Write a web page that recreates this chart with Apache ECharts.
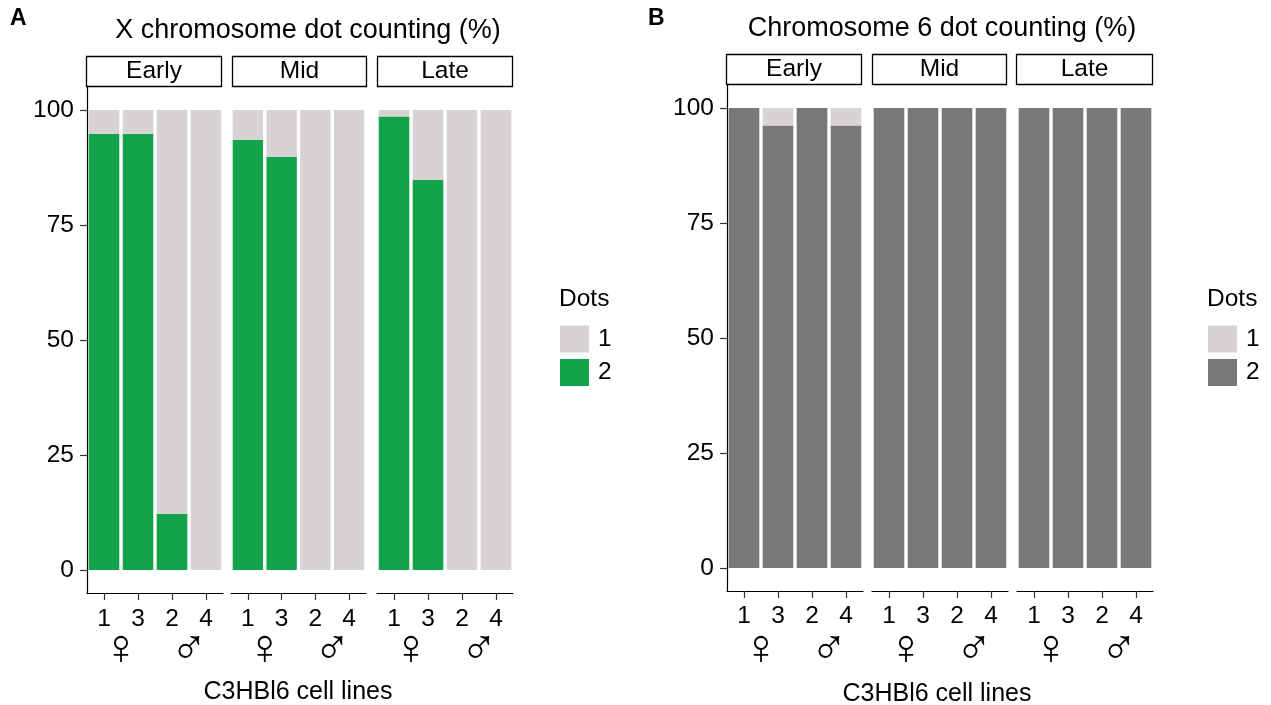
<!DOCTYPE html>
<html>
<head>
<meta charset="utf-8">
<script src="https://cdn.jsdelivr.net/npm/echarts@6/dist/echarts.min.js"></script>
<style>
html,body{margin:0;padding:0;background:#fff;}
#chart{width:1271px;height:705px;}
</style>
</head>
<body>
<div id="chart"></div>
<script>
// ---------- data ----------
const stages = ['Early', 'Mid', 'Late'];
const cellLines = ['1', '3', '2', '4'];
const sexes = ['\u2640', '\u2642'];
const yTicks = [0, 25, 50, 75, 100];
const dotNames = ['1', '2'];

// Panel A: X chromosome dot counting (%)
const xEarly2 = [94.8, 94.8, 12.2, 0];
const xEarly1 = [5.2, 5.2, 87.8, 100];
const xMid2 = [93.5, 89.8, 0, 0];
const xMid1 = [6.5, 10.2, 100, 100];
const xLate2 = [98.6, 84.8, 0, 0];
const xLate1 = [1.4, 15.2, 100, 100];

// Panel B: Chromosome 6 dot counting (%)
const c6Early2 = [100, 96.2, 100, 96.2];
const c6Early1 = [0, 3.8, 0, 3.8];
const c6Mid2 = [100, 100, 100, 100];
const c6Mid1 = [0, 0, 0, 0];
const c6Late2 = [100, 100, 100, 100];
const c6Late1 = [0, 0, 0, 0];

// ---------- styling / layout ----------
const FONT = "'Liberation Sans', Arial, Helvetica, sans-serif";
const colLight = '#d8d3d3';
const colGreen = '#13a34b';
const colDark = '#787878';

const panels = [
  { letter: 'A', letterX: 10, title: 'X chromosome dot counting (%)', titleX: 308, titleY: 31,
    top: 87, height: 506, lefts: [87, 231, 377], widths: [136, 135, 136],
    strips: [[86, 222], [232, 367], [377, 513]], stripTop: 56,
    axisTitleX: 298, axisTitleY: 692, labelMargin: 14,
    legendX: 560, dotsY: 299, legendTop: 325.5, col2: colGreen,
    d2: [xEarly2, xMid2, xLate2], d1: [xEarly1, xMid1, xLate1] },
  { letter: 'B', letterX: 648, title: 'Chromosome 6 dot counting (%)', titleX: 942, titleY: 29,
    top: 85, height: 506, lefts: [727, 872, 1017], widths: [136, 136, 136],
    strips: [[726, 862], [872, 1007], [1016, 1153]], stripTop: 54,
    axisTitleX: 937, axisTitleY: 694, labelMargin: 13,
    legendX: 1208, dotsY: 299, legendTop: 325.5, col2: colDark,
    d2: [c6Early2, c6Mid2, c6Late2], d1: [c6Early1, c6Mid1, c6Late1] }
];

const grid = [], xAxis = [], yAxis = [], series = [], graphic = [], legend = [];

panels.forEach((p, pi) => {
  stages.forEach((st, si) => {
    const gi = grid.length;
    const gridBottom = p.top + p.height;
    grid.push({ left: p.lefts[si], top: p.top, width: p.widths[si], height: p.height, containLabel: false });
    // main category axis (cell lines)
    xAxis.push({
      type: 'category', gridIndex: gi, data: cellLines, position: 'bottom',
      axisLine: { show: true, onZero: false, lineStyle: { color: '#000', width: 1.2 } },
      axisTick: { show: true, alignWithLabel: true, length: 7, lineStyle: { color: '#333', width: 1.2 } },
      axisLabel: { color: '#000', fontSize: 24.5, fontFamily: FONT, margin: p.labelMargin, interval: 0 },
      splitLine: { show: false }
    });
    // sex symbol axis (labels centred at y ~650)
    xAxis.push({
      type: 'category', gridIndex: gi, data: sexes, position: 'bottom',
      axisLine: { show: false, onZero: false }, axisTick: { show: false },
      axisLabel: { color: '#000', fontSize: 50, fontFamily: FONT, margin: 650 - 25 - gridBottom, interval: 0 },
      splitLine: { show: false }
    });
    yAxis.push({
      type: 'value', gridIndex: gi, min: -5, max: 105, show: si === 0,
      axisLine: { show: true, onZero: false, lineStyle: { color: '#000', width: 1.2 } },
      axisTick: { show: true, length: 7, customValues: yTicks, lineStyle: { color: '#333', width: 1.2 } },
      axisLabel: { color: '#000', fontSize: 24.5, fontFamily: FONT, margin: 13, customValues: yTicks },
      splitLine: { show: false }
    });
    const xi = gi * 2;
    series.push({
      type: 'bar', name: '2', xAxisIndex: xi, yAxisIndex: gi, stack: 'p' + pi + 's' + si,
      barWidth: '90%', data: p.d2[si], itemStyle: { color: p.col2 }, silent: true
    });
    series.push({
      type: 'bar', name: '1', xAxisIndex: xi, yAxisIndex: gi, stack: 'p' + pi + 's' + si,
      barWidth: '90%', data: p.d1[si], itemStyle: { color: colLight }, silent: true
    });
    // facet strip
    const [sx0, sx1] = p.strips[si];
    graphic.push({
      type: 'rect', shape: { x: sx0 + 0.5, y: p.stripTop + 0.5, width: sx1 - sx0 - 1, height: 30 },
      style: { fill: '#fff', stroke: '#000', lineWidth: 1.3 }, silent: true
    });
    graphic.push({
      type: 'text', x: (sx0 + sx1) / 2, y: p.stripTop + 15.5,
      style: { text: st, fill: '#000', fontSize: 24.5, fontFamily: FONT, align: 'center', verticalAlign: 'middle', textAlign: 'center', textVerticalAlign: 'middle' },
      silent: true
    });
  });
  // panel letter
  graphic.push({
    type: 'text', x: p.letterX, y: 19,
    style: { text: p.letter, fill: '#000', fontSize: 23, fontWeight: 'bold', fontFamily: FONT, align: 'left', verticalAlign: 'middle', textAlign: 'left', textVerticalAlign: 'middle' },
    silent: true
  });
  // title
  graphic.push({
    type: 'text', x: p.titleX, y: p.titleY,
    style: { text: p.title, fill: '#000', fontSize: 27, fontFamily: FONT, align: 'center', verticalAlign: 'middle', textAlign: 'center', textVerticalAlign: 'middle' },
    silent: true
  });
  // axis title
  graphic.push({
    type: 'text', x: p.axisTitleX, y: p.axisTitleY,
    style: { text: 'C3HBl6 cell lines', fill: '#000', fontSize: 25, fontFamily: FONT, align: 'center', verticalAlign: 'middle', textAlign: 'center', textVerticalAlign: 'middle' },
    silent: true
  });
  // legend title
  graphic.push({
    type: 'text', x: p.legendX - 1, y: p.dotsY,
    style: { text: 'Dots', fill: '#000', fontSize: 24.5, fontFamily: FONT, align: 'left', verticalAlign: 'middle', textAlign: 'left', textVerticalAlign: 'middle' },
    silent: true
  });
  legend.push({
    orient: 'vertical', left: p.legendX, top: p.legendTop, padding: 0,
    itemWidth: 29, itemHeight: 27, itemGap: 6.5, icon: 'rect', selectedMode: false,
    textStyle: { color: '#000', fontSize: 24.5, fontFamily: FONT, padding: [0, 0, 0, 4] },
    data: [
      { name: dotNames[0], itemStyle: { color: colLight } },
      { name: dotNames[1], itemStyle: { color: p.col2 } }
    ]
  });
});

const chart = echarts.init(document.getElementById('chart'), null, { renderer: 'canvas' });
chart.setOption({
  animation: false,
  backgroundColor: '#fff',
  grid, xAxis, yAxis, series, legend, graphic
});
</script>
</body>
</html>
